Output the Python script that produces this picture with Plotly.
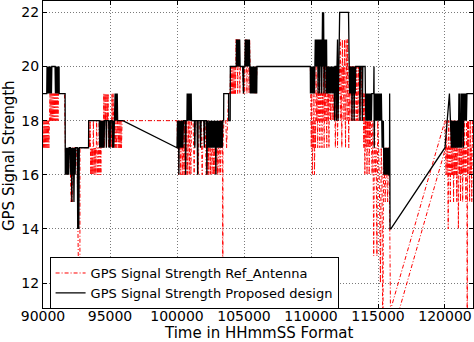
import plotly.graph_objects as go

# ---- tick labels ----
x_ticks = [90000, 95000, 100000, 105000, 110000, 115000, 120000]
y_ticks = [12, 14, 16, 18, 20, 22]
x_title = "Time in HHmmSS Format"
y_title = "GPS Signal Strength"

# ---- Proposed design (black) : (time HHmmSS, signal strength) ----
prop_0900 = [(90000,19),(90280,19),(90300,20),(90330,19),(90360,20),(90390,19),(90420,20),(90450,19),(90480,20),(90510,19),(90540,20),(90570,19),(90600,20),(90630,19),(90660,20),(90900,20),(90930,19),(90960,20),(91000,19),(91040,20),(91080,19),(91120,20),(91160,19),(91200,20),(91210,19),(91650,19),(91665,16),(91700,17),(91740,16),(91790,17),(91830,16),(91880,17),(91920,16),(91960,17),(92040,17),(92070,16),(92110,17),(92150,15),(92190,17),(92230,16),(92270,17),(92310,15),(92350,17),(92400,16),(92440,17),(92560,17),(92590,14),(92630,17),(92670,14),(92710,17),(93400,17),(93410,18),(94200,18),(94230,17),(94270,18),(94310,17),(94350,18),(94390,17),(94430,18),(94470,17),(94510,18),(94550,17),(94590,18),(94700,18),(94730,17),(94760,18),(94900,18),(94930,17),(94970,18),(95010,17),(95050,18),(95150,18),(95200,17),(95240,18),(95280,17),(95320,18),(95380,19),(95420,18),(95460,19),(95500,18),(95540,19),(95570,18),(95959,18)]
prop_1000 = [(100000,17),(100040,18),(100080,17),(100110,18),(100140,16),(100170,18),(100200,17),(100240,18),(100280,17),(100320,18),(100360,17),(100400,18),(100440,17),(100480,18),(100600,18),(100640,16),(100680,18),(100740,18),(100760,19),(100790,18),(100820,19),(100850,18),(100880,19),(100910,18),(100940,19),(100970,18),(101000,19),(101030,18),(101060,19),(101080,18),(101300,18),(101330,17),(101360,18),(101500,18),(101540,16),(101580,18),(101720,18),(101760,17),(101800,18),(102000,18),(102040,17),(102080,18),(102200,18),(102230,16),(102270,18),(102340,17),(102380,18),(102420,17),(102460,18),(102500,17),(102540,18),(102580,17),(102620,18),(102660,17),(102700,18),(102740,17),(102780,18),(102820,17),(102860,18),(102900,16),(102940,18),(102980,17),(103020,18),(103060,17),(103100,18),(103140,17),(103180,18),(103220,17),(103260,18),(103300,17),(103340,18),(103380,17),(103420,18),(103480,18),(103490,19),(103850,19),(103860,18),(103970,18),(103980,20),(104420,20),(104440,21),(104470,20),(104500,21),(104530,20),(104560,21),(104590,20),(104620,21),(104650,20),(104680,21),(104710,20),(104900,20),(104920,19),(104960,19),(104980,20),(105060,20),(105100,21),(105130,20),(105160,21),(105190,20),(105220,21),(105250,20),(105280,21),(105310,20),(105340,21),(105370,20),(105400,21),(105430,20),(105470,19),(105500,20),(105530,19),(105560,20),(105590,19),(105620,20),(105650,19),(105680,20),(105710,19),(105740,20),(105770,19),(105800,20),(105830,19),(105860,20),(105890,19),(105920,20),(105950,19),(105970,20),(109950,20)]
prop_1100 = [(109960,19),(109990,20),(110020,19),(110050,20),(110080,19),(110110,20),(110140,19),(110170,20),(110200,19),(110230,20),(110260,19),(110290,20),(110320,21),(110350,20),(110380,21),(110410,20),(110440,21),(110470,20),(110500,21),(110530,19),(110560,21),(110590,20),(110620,21),(110650,19),(110680,21),(110720,20),(110760,21),(110800,19),(110860,22),(110900,20),(110940,22),(110980,19),(111020,21),(111060,20),(111100,21),(111130,19),(111160,21),(111190,19),(111220,20),(111250,19),(111280,20),(111310,19),(111340,20),(111370,19),(111400,20),(111430,19),(111460,20),(111490,19),(111520,20),(111560,20),(111600,19),(111640,20),(111680,19),(111720,20),(111760,18),(111800,20),(111860,20),(111900,18),(111940,20),(111980,21),(112020,18),(112060,20),(112100,21),(112140,22),(112800,22),(112820,20),(112850,21),(112880,19),(112910,20),(112940,19),(112970,20),(113000,19),(113030,20),(113060,18),(113100,20),(113140,19),(113180,20),(113220,18),(113260,20),(113300,19),(113340,20),(113620,20),(113650,18),(113690,20),(113800,20),(113830,18),(113870,20),(114040,20),(114060,19),(114090,18),(114120,19),(114150,18),(114180,19),(114210,18),(114240,19),(114270,18),(114300,19),(114330,18),(114360,19),(114390,18),(114420,19),(114450,18),(114480,19),(114510,18),(114540,19),(114680,19),(114700,20),(114720,17),(114760,19),(114800,18),(114830,19),(114860,18),(114890,19),(114920,18),(114950,19),(114980,18),(115010,19),(115040,18),(115070,19),(115100,18),(115130,19),(115160,18),(115190,19),(115220,18),(115250,19),(115280,18),(115310,17),(115340,18),(115370,17),(115400,18),(115420,17),(115440,16),(115470,17),(115500,16),(115530,17),(115560,16),(115590,17),(115620,16),(115650,17),(115680,16),(115710,17),(115740,16),(115770,17),(115800,16),(115860,16),(115870,19),(115900,14),(115959,14)]
prop_1200 = [(120000,17),(120330,19),(120480,17),(120500,18),(120530,17),(120560,18),(120600,17),(120640,18),(120680,17),(120720,18),(120760,17),(120790,18),(120820,17),(120850,18),(120880,17),(120910,18),(120940,17),(120970,18),(121000,17),(121040,19),(121070,17),(121100,19),(121130,17),(121160,18),(121190,17),(121220,19),(121250,17),(121280,19),(121310,18),(121340,19),(121370,17),(121400,19),(121440,18),(121480,19),(121520,18),(121560,19),(121600,18),(121640,19),(122090,19)]

# ---- Ref_Antenna (red) ----
ref_0900 = [(90000,18),(90040,17),(90080,18),(90120,17),(90160,18),(90200,17),(90240,18),(90280,17),(90320,18),(90360,17),(90400,18),(90440,17),(90480,18),(90520,19),(90560,18),(90600,19),(90640,18),(90680,19),(90720,18),(90760,19),(90800,18),(90840,19),(90880,18),(90920,19),(90960,18),(91000,19),(91040,18),(91080,19),(91120,18),(91160,19),(91600,19),(91650,17),(91700,16),(91740,17),(91780,16),(91820,17),(91860,16),(91900,17),(92000,17),(92050,16),(92100,15),(92140,16),(92180,15),(92220,17),(92300,16),(92350,17),(92500,17),(92560,16),(92620,14),(92750,8),(92760,17),(93400,17),(93410,18),(93480,17),(93520,18),(93560,16),(93600,17),(93640,16),(93680,17),(93720,16),(93760,18),(93800,16),(93840,17),(93880,16),(93920,17),(93960,16),(94000,18),(94040,17),(94080,16),(94120,17),(94160,16),(94200,18),(94240,16),(94280,17),(94320,16),(94360,18),(94400,17),(94440,18),(94500,17),(94540,19),(94580,17),(94620,19),(94660,18),(94700,19),(94740,17),(94780,19),(94820,18),(94860,19),(94900,17),(94950,18),(95000,17),(95050,18),(95100,17),(95150,19),(95190,17),(95230,19),(95270,18),(95310,17),(95350,18),(95400,17),(95450,18),(95500,17),(95560,18),(95620,17),(95660,18),(95700,17),(95740,18),(95780,17),(95820,18),(95860,17),(95900,18),(95959,18)]
ref_1000 = [(100000,18),(100040,17),(100080,18),(100120,16),(100160,17),(100200,18),(100240,17),(100280,16),(100320,18),(100360,17),(100400,16),(100440,18),(100480,17),(100520,16),(100560,18),(100600,16),(100640,17),(100680,16),(100720,18),(100760,17),(100800,16),(100840,18),(100880,17),(100920,16),(100960,18),(101000,17),(101040,16),(101080,18),(101200,18),(101240,17),(101280,16),(101320,17),(101360,18),(101500,18),(101540,17),(101580,16),(101620,17),(101660,18),(101800,18),(101840,17),(101880,16),(101920,17),(102000,18),(102100,18),(102140,17),(102180,16),(102220,17),(102260,18),(102300,16),(102340,17),(102380,16),(102420,18),(102460,17),(102500,16),(102540,18),(102580,17),(102620,16),(102660,18),(102700,17),(102740,16),(102780,18),(102820,16),(102860,17),(102900,16),(102940,18),(102980,17),(103020,16),(103060,18),(103100,17),(103140,16),(103180,18),(103220,17),(103260,16),(103300,18),(103340,17),(103380,18),(103400,17),(103420,8),(103430,17),(103500,18),(103640,18),(103700,17),(103850,19),(103950,19),(104000,20),(104050,19),(104090,20),(104130,19),(104170,20),(104210,19),(104250,20),(104290,19),(104330,20),(104370,19),(104410,21),(104450,20),(104490,21),(104530,19),(104570,21),(104610,20),(104650,21),(104690,19),(104730,20),(104900,20),(104950,19),(105000,20),(105050,19),(105100,21),(105140,20),(105180,21),(105220,19),(105260,21),(105300,20),(105340,21),(105380,19),(105420,21),(105460,20),(105500,19),(105540,20),(105580,19),(105620,20),(105660,19),(105700,20),(105740,19),(105780,20),(105820,19),(105860,20),(105900,19),(105970,20),(109950,20)]
ref_1100 = [(109980,19),(110020,17),(110060,19),(110100,16),(110140,18),(110180,17),(110220,19),(110260,16),(110300,18),(110340,17),(110380,20),(110420,18),(110460,19),(110500,17),(110540,20),(110580,18),(110620,19),(110660,17),(110700,19),(110740,18),(110780,20),(110820,17),(110860,19),(110900,18),(110940,20),(110980,17),(111020,19),(111060,18),(111100,20),(111140,19),(111180,17),(111220,20),(111260,18),(111300,19),(111340,17),(111380,20),(111420,19),(111460,18),(111500,20),(111540,19),(111580,18),(111620,20),(111660,19),(111700,18),(111740,20),(111780,19),(111820,17),(111860,19),(111900,18),(111940,20),(111980,17),(112020,19),(112060,18),(112100,20),(112140,19),(112180,21),(112220,18),(112260,20),(112300,17),(112340,21),(112380,19),(112420,20),(112460,18),(112500,21),(112540,19),(112580,17),(112620,21),(112660,20),(112700,18),(112740,21),(112780,19),(112820,17),(112860,20),(112900,18),(112940,20),(112980,19),(113020,18),(113060,20),(113100,19),(113140,18),(113180,20),(113220,19),(113260,18),(113300,20),(113340,19),(113380,18),(113420,20),(113460,18),(113500,19),(113540,20),(113580,18),(113620,19),(113660,20),(113700,18),(113740,19),(113780,20),(113820,19),(113860,18),(113900,19),(113940,17),(113980,19),(114020,16),(114060,18),(114100,17),(114140,19),(114180,16),(114220,18),(114260,17),(114300,19),(114340,16),(114380,18),(114420,17),(114460,19),(114500,18),(114560,16),(114620,18),(114680,13),(114740,18),(114800,16),(114860,17),(114920,13),(114980,18),(115050,17),(115120,15),(115180,12),(115240,17),(115300,16),(115360,9),(115420,17),(115480,16),(115540,15),(115600,17),(115660,16),(115720,15),(115780,17),(115840,16),(115880,14),(115930,11)]
ref_1200 = [(120000,18),(120040,17),(120080,16),(120120,18),(120160,16),(120200,17),(120240,14),(120280,18),(120320,16),(120360,17),(120400,15),(120440,18),(120480,16),(120520,17),(120560,16),(120600,18),(120640,15),(120680,17),(120720,16),(120760,18),(120800,16),(120840,17),(120880,15),(120920,18),(120960,16),(121000,14),(121040,17),(121080,16),(121120,18),(121160,15),(121200,17),(121240,16),(121280,18),(121320,15),(121360,17),(121400,16),(121440,18),(121480,16),(121520,17),(121560,15),(121600,18),(121640,17),(121660,8),(121680,18),(121720,16),(121760,18),(121800,17),(121840,15),(121880,18),(121920,16),(121960,17),(122000,15),(122040,18),(122090,17)]
ref_gap_run = [(116000,10),(120050,17)]

prop = prop_0900 + prop_1000 + prop_1100 + prop_1200
ref = ref_0900 + ref_1000 + ref_1100 + ref_1200 + [(None, None)] + ref_gap_run

fig = go.Figure()
fig.add_trace(go.Scatter(
    x=[p[0] for p in ref], y=[p[1] for p in ref], mode="lines",
    name="GPS Signal Strength Ref_Antenna",
    line=dict(color="#ff0000", width=1, dash="4px,2px,1px,2px"),
    connectgaps=False))
fig.add_trace(go.Scatter(
    x=[p[0] for p in prop], y=[p[1] for p in prop], mode="lines",
    name="GPS Signal Strength Proposed design",
    line=dict(color="black", width=1.3)))

axis_common = dict(
    showline=True, linecolor="black", linewidth=1, mirror="allticks",
    ticks="inside", ticklen=4, tickcolor="black",
    showgrid=True, gridcolor="#7a7a7a", gridwidth=1, griddash="1px,2px",
    zeroline=False, tickfont=dict(size=14, color="black"),
)
fig.update_xaxes(range=[90000, 122090], tickvals=x_ticks,
                 ticktext=[str(v) for v in x_ticks], ticklabelstandoff=-5,
                 **axis_common)
fig.update_yaxes(range=[11.08, 22.42], tickvals=y_ticks,
                 ticktext=[str(v) for v in y_ticks],
                 **axis_common)

fig.add_annotation(text=x_title, xref="paper", yref="paper", x=0.5, y=-0.082,
                   xanchor="center", yanchor="middle", showarrow=False,
                   font=dict(size=15, color="black"))
fig.add_annotation(text=y_title, xref="paper", yref="paper", x=-0.079, y=0.495,
                   xanchor="center", yanchor="middle", showarrow=False, textangle=-90,
                   font=dict(size=15, color="black"))

fig.update_layout(
    width=474, height=342,
    margin=dict(l=43, r=1, t=1, b=34),
    plot_bgcolor="white", paper_bgcolor="white",
    font=dict(family="DejaVu Sans", size=14, color="black"),
    showlegend=True,
    legend=dict(x=0.0153, y=0.166, xanchor="left", yanchor="top",
                bordercolor="black", borderwidth=1, bgcolor="white",
                font=dict(size=13), tracegroupgap=0),
)
fig.write_html("out.html")
